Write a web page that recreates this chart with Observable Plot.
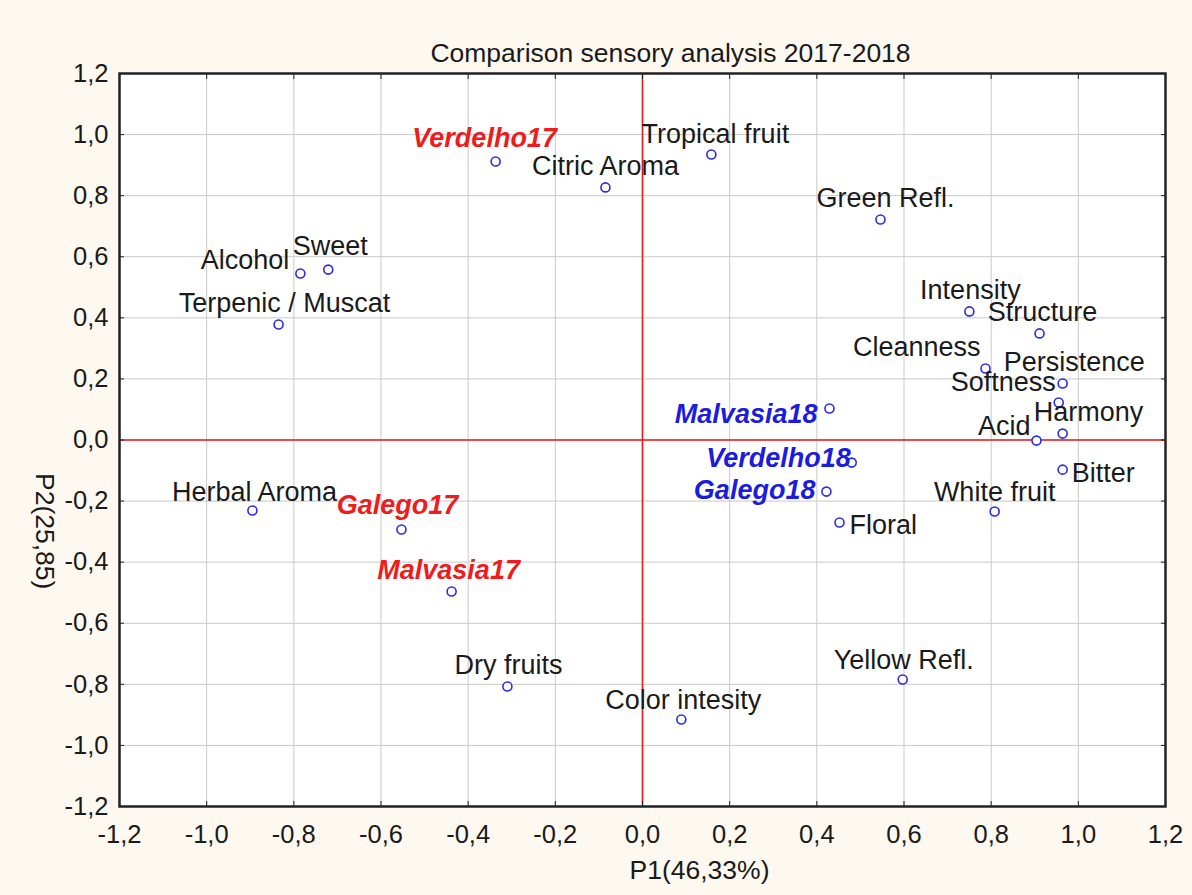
<!DOCTYPE html>
<html>
<head>
<meta charset="utf-8">
<script src="https://cdn.jsdelivr.net/npm/d3@7"></script>
<script src="https://cdn.jsdelivr.net/npm/@observablehq/plot@0.6"></script>
<style>
  html, body { margin: 0; padding: 0; background: #fdf8f0; }
  #chart svg { display: block; background: #fdf8f0; }
</style>
</head>
<body>
<div id="chart"></div>
<script>
// ---- data ----
const names = ["Verdelho17","Citric Aroma","Tropical fruit","Green Refl.","Alcohol","Sweet","Terpenic / Muscat",
  "Intensity","Structure","Cleanness","Persistence","Softness","Harmony","Acid",
  "Malvasia18","Verdelho18","Galego18","Floral","Bitter","White fruit",
  "Herbal Aroma","Galego17","Malvasia17","Dry fruits","Color intesity","Yellow Refl."];
const p1 = [-0.337,-0.085,0.158,0.546,-0.785,-0.721,-0.835,
  0.750,0.911,0.787,0.964,0.955,0.964,0.904,
  0.429,0.480,0.422,0.452,0.964,0.808,
  -0.895,-0.553,-0.438,-0.310,0.089,0.597];
const p2 = [0.912,0.827,0.935,0.722,0.545,0.558,0.378,
  0.421,0.349,0.234,0.185,0.123,0.021,-0.002,
  0.103,-0.074,-0.169,-0.270,-0.097,-0.234,
  -0.231,-0.293,-0.496,-0.807,-0.915,-0.784];
const groups = ["2017","var","var","var","var","var","var",
  "var","var","var","var","var","var","var",
  "2018","2018","2018","var","var","var",
  "var","2017","2017","var","var","var"];
const xTicks = [-1.2,-1.0,-0.8,-0.6,-0.4,-0.2,0.0,0.2,0.4,0.6,0.8,1.0,1.2];
const yTicks = [-1.2,-1.0,-0.8,-0.6,-0.4,-0.2,0.0,0.2,0.4,0.6,0.8,1.0,1.2];
const titleText = "Comparison sensory analysis 2017-2018";
const xLabel = "P1(46,33%)";
const yLabel = "P2(25,85)";

// ---- label placement (layout only) ----
const labelLayout = {
  "Verdelho17": ["middle", -11, -23],
  "Citric Aroma": ["middle", 0, -21],
  "Tropical fruit": ["middle", 4, -20],
  "Green Refl.": ["middle", 5, -21],
  "Alcohol": ["end", -11, -13],
  "Sweet": ["middle", 2, -23],
  "Terpenic / Muscat": ["middle", 6, -21],
  "Intensity": ["middle", 1, -21],
  "Structure": ["middle", 3, -21],
  "Cleanness": ["end", -5, -21],
  "Persistence": ["start", -59, -21],
  "Softness": ["end", -3, -20],
  "Harmony": ["start", -29, -21],
  "Acid": ["end", -6, -14],
  "Malvasia18": ["end", -12, 6],
  "Verdelho18": ["end", -1, -4],
  "Galego18": ["end", -11, -1],
  "Floral": ["start", 10, 3],
  "Bitter": ["start", 9, 4],
  "White fruit": ["middle", 0, -19],
  "Herbal Aroma": ["middle", 2, -18],
  "Galego17": ["middle", -4, -24],
  "Malvasia17": ["middle", -3, -21],
  "Dry fruits": ["middle", 1, -21],
  "Color intesity": ["middle", 2, -19],
  "Yellow Refl.": ["middle", 1, -19]
};
const groupStyle = {
  "var": {fill: "#1a1a1a", fontWeight: "normal", fontStyle: "normal"},
  "2017": {fill: "#ee1c1c", fontWeight: "bold", fontStyle: "italic"},
  "2018": {fill: "#1c1cdc", fontWeight: "bold", fontStyle: "italic"}
};

const data = names.map((n, i) => ({name: n, p1: p1[i], p2: p2[i], group: groups[i]}));
const fmt = d => (Math.abs(d) < 1e-9 ? 0 : d).toFixed(1).replace(".", ",");
const FONT = "'Liberation Sans', Arial, sans-serif";

const labelMarks = data.map(d => {
  const [anchor, dx, dy] = labelLayout[d.name];
  const s = groupStyle[d.group];
  return Plot.text([d], {
    x: "p1", y: "p2", text: "name", textAnchor: anchor, dx, dy,
    fontSize: 27, fill: s.fill, fontWeight: s.fontWeight, fontStyle: s.fontStyle
  });
});

const chart = Plot.plot({
  width: 1192,
  height: 895,
  marginLeft: 119,
  marginRight: 27,
  marginTop: 73,
  marginBottom: 89,
  style: {fontFamily: FONT, background: "#fdf8f0", overflow: "visible"},
  x: {domain: [-1.2, 1.2], axis: null},
  y: {domain: [-1.2, 1.2], axis: null},
  marks: [
    Plot.frame({fill: "white", stroke: "none"}),
    Plot.gridX(xTicks, {stroke: "#c9c9c9", strokeOpacity: 1, strokeWidth: 1}),
    Plot.gridY(yTicks, {stroke: "#c9c9c9", strokeOpacity: 1, strokeWidth: 1}),
    Plot.ruleX([0], {stroke: "#e81818", strokeWidth: 1.6}),
    Plot.ruleY([0], {stroke: "#e81818", strokeWidth: 1.6}),
    Plot.axisX(xTicks, {anchor: "bottom", tickSize: -5, tickFormat: () => "", stroke: "#222", label: null}),
    Plot.axisX(xTicks, {anchor: "top", tickSize: -5, tickFormat: () => "", stroke: "#222", label: null}),
    Plot.axisY(yTicks, {anchor: "left", tickSize: -5, tickFormat: () => "", stroke: "#222", label: null}),
    Plot.axisY(yTicks, {anchor: "right", tickSize: -5, tickFormat: () => "", stroke: "#222", label: null}),
    Plot.axisX(xTicks, {anchor: "bottom", tickSize: 0, tickPadding: 18, tickFormat: fmt, fontSize: 25.5, fill: "#1a1a1a", label: null}),
    Plot.axisY(yTicks, {anchor: "left", tickSize: 0, tickPadding: 11, tickFormat: fmt, fontSize: 25.5, fill: "#1a1a1a", label: null}),
    Plot.frame({stroke: "#222", strokeWidth: 2.5}),
    Plot.dot(data, {x: "p1", y: "p2", r: 4.5, stroke: "#2b2be6", strokeWidth: 1.6, fill: "white"}),
    ...labelMarks,
    Plot.text([titleText], {frameAnchor: "top", dx: 28, dy: -30, fontSize: 26.5, fill: "#1a1a1a"}),
    Plot.text([xLabel], {frameAnchor: "bottom", dx: 57, dy: 72, fontSize: 26.5, fill: "#1a1a1a"}),
    Plot.text([yLabel], {frameAnchor: "left", dx: -75, dy: 33, rotate: 90, fontSize: 26.5, fill: "#1a1a1a"})
  ]
});
document.getElementById("chart").appendChild(chart);
</script>
</body>
</html>
